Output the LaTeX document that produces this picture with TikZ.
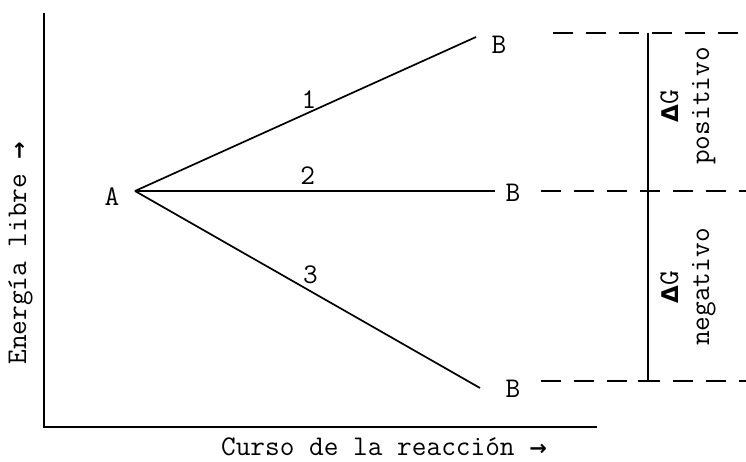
\documentclass[tikz,border=0pt]{standalone}
\usepackage{fontspec}
\newfontfamily\arrfont{DejaVu Sans}
\begin{document}
\begin{tikzpicture}[x=1pt,y=-1pt,
  lbl/.style={inner sep=0pt, font=\ttfamily\fontsize{28.5}{31}\selectfont},
  curve/.style={line width=1.7pt},
  axis/.style={line width=2.1pt},
  level/.style={line width=1.6pt, dash pattern=on 20pt off 13pt}]
\newcommand{\rarr}{{\arrfont\bfseries\fontsize{21}{21}\selectfont →}}
\newcommand{\dlt}{{\arrfont\bfseries\fontsize{23}{23}\selectfont Δ}}
\useasboundingbox (0,0) rectangle (746,462);
% axes
\coordinate (ytop) at (44,13);
\coordinate (orig) at (44,427);
\coordinate (xend) at (597,427);
\draw[axis] (ytop) -- (orig) -- (xend);
% points
\coordinate (a) at (135,191);
\coordinate (b1) at (476,37);
\coordinate (b2) at (495,191);
\coordinate (b3) at (480,388);
\node[lbl] (A) at (112,197) {A};
\node[lbl] (B1) at (499,45) {B};
\node[lbl] (B2) at (513,193) {B};
\node[lbl] (B3) at (513,389) {B};
\draw[curve] (a) -- node[lbl, pos=0.51, above=3pt] (n1) {1} (b1);
\draw[curve] (a) -- node[lbl, pos=0.48, above=6pt] (n2) {2} (b2);
\draw[curve] (a) -- node[lbl, pos=0.5, above=5pt, xshift=3pt] (n3) {3} (b3);
% levels
\coordinate (l1s) at (553,33);
\coordinate (l1e) at (746,33);
\coordinate (l2s) at (541,191);
\coordinate (l2e) at (746,191);
\coordinate (l3s) at (541,381);
\coordinate (l3e) at (746,381);
\draw[level] (l1s) -- (l1e);
\draw[level] (l2s) -- (l2e);
\draw[level] (l3s) -- (l3e);
\coordinate (vt) at (648,33);
\coordinate (vb) at (648,381);
\draw[line width=1.6pt] (vt) -- (vb);
\draw[line width=1.6pt] (638,381) -- (660,381);
\node[lbl, rotate=90, align=center] (pos) at (688,106) {\dlt G\\positivo};
\node[lbl, rotate=90, align=center] (neg) at (688,287) {\dlt G\\negativo};
% axis labels
\node[lbl, rotate=90, anchor=base] (ylab) at (26,253) {Energía libre \rarr};
\node[lbl, anchor=base] (xlab) at (384,455) {Curso de la reacción \rarr};
\end{tikzpicture}
\end{document}
